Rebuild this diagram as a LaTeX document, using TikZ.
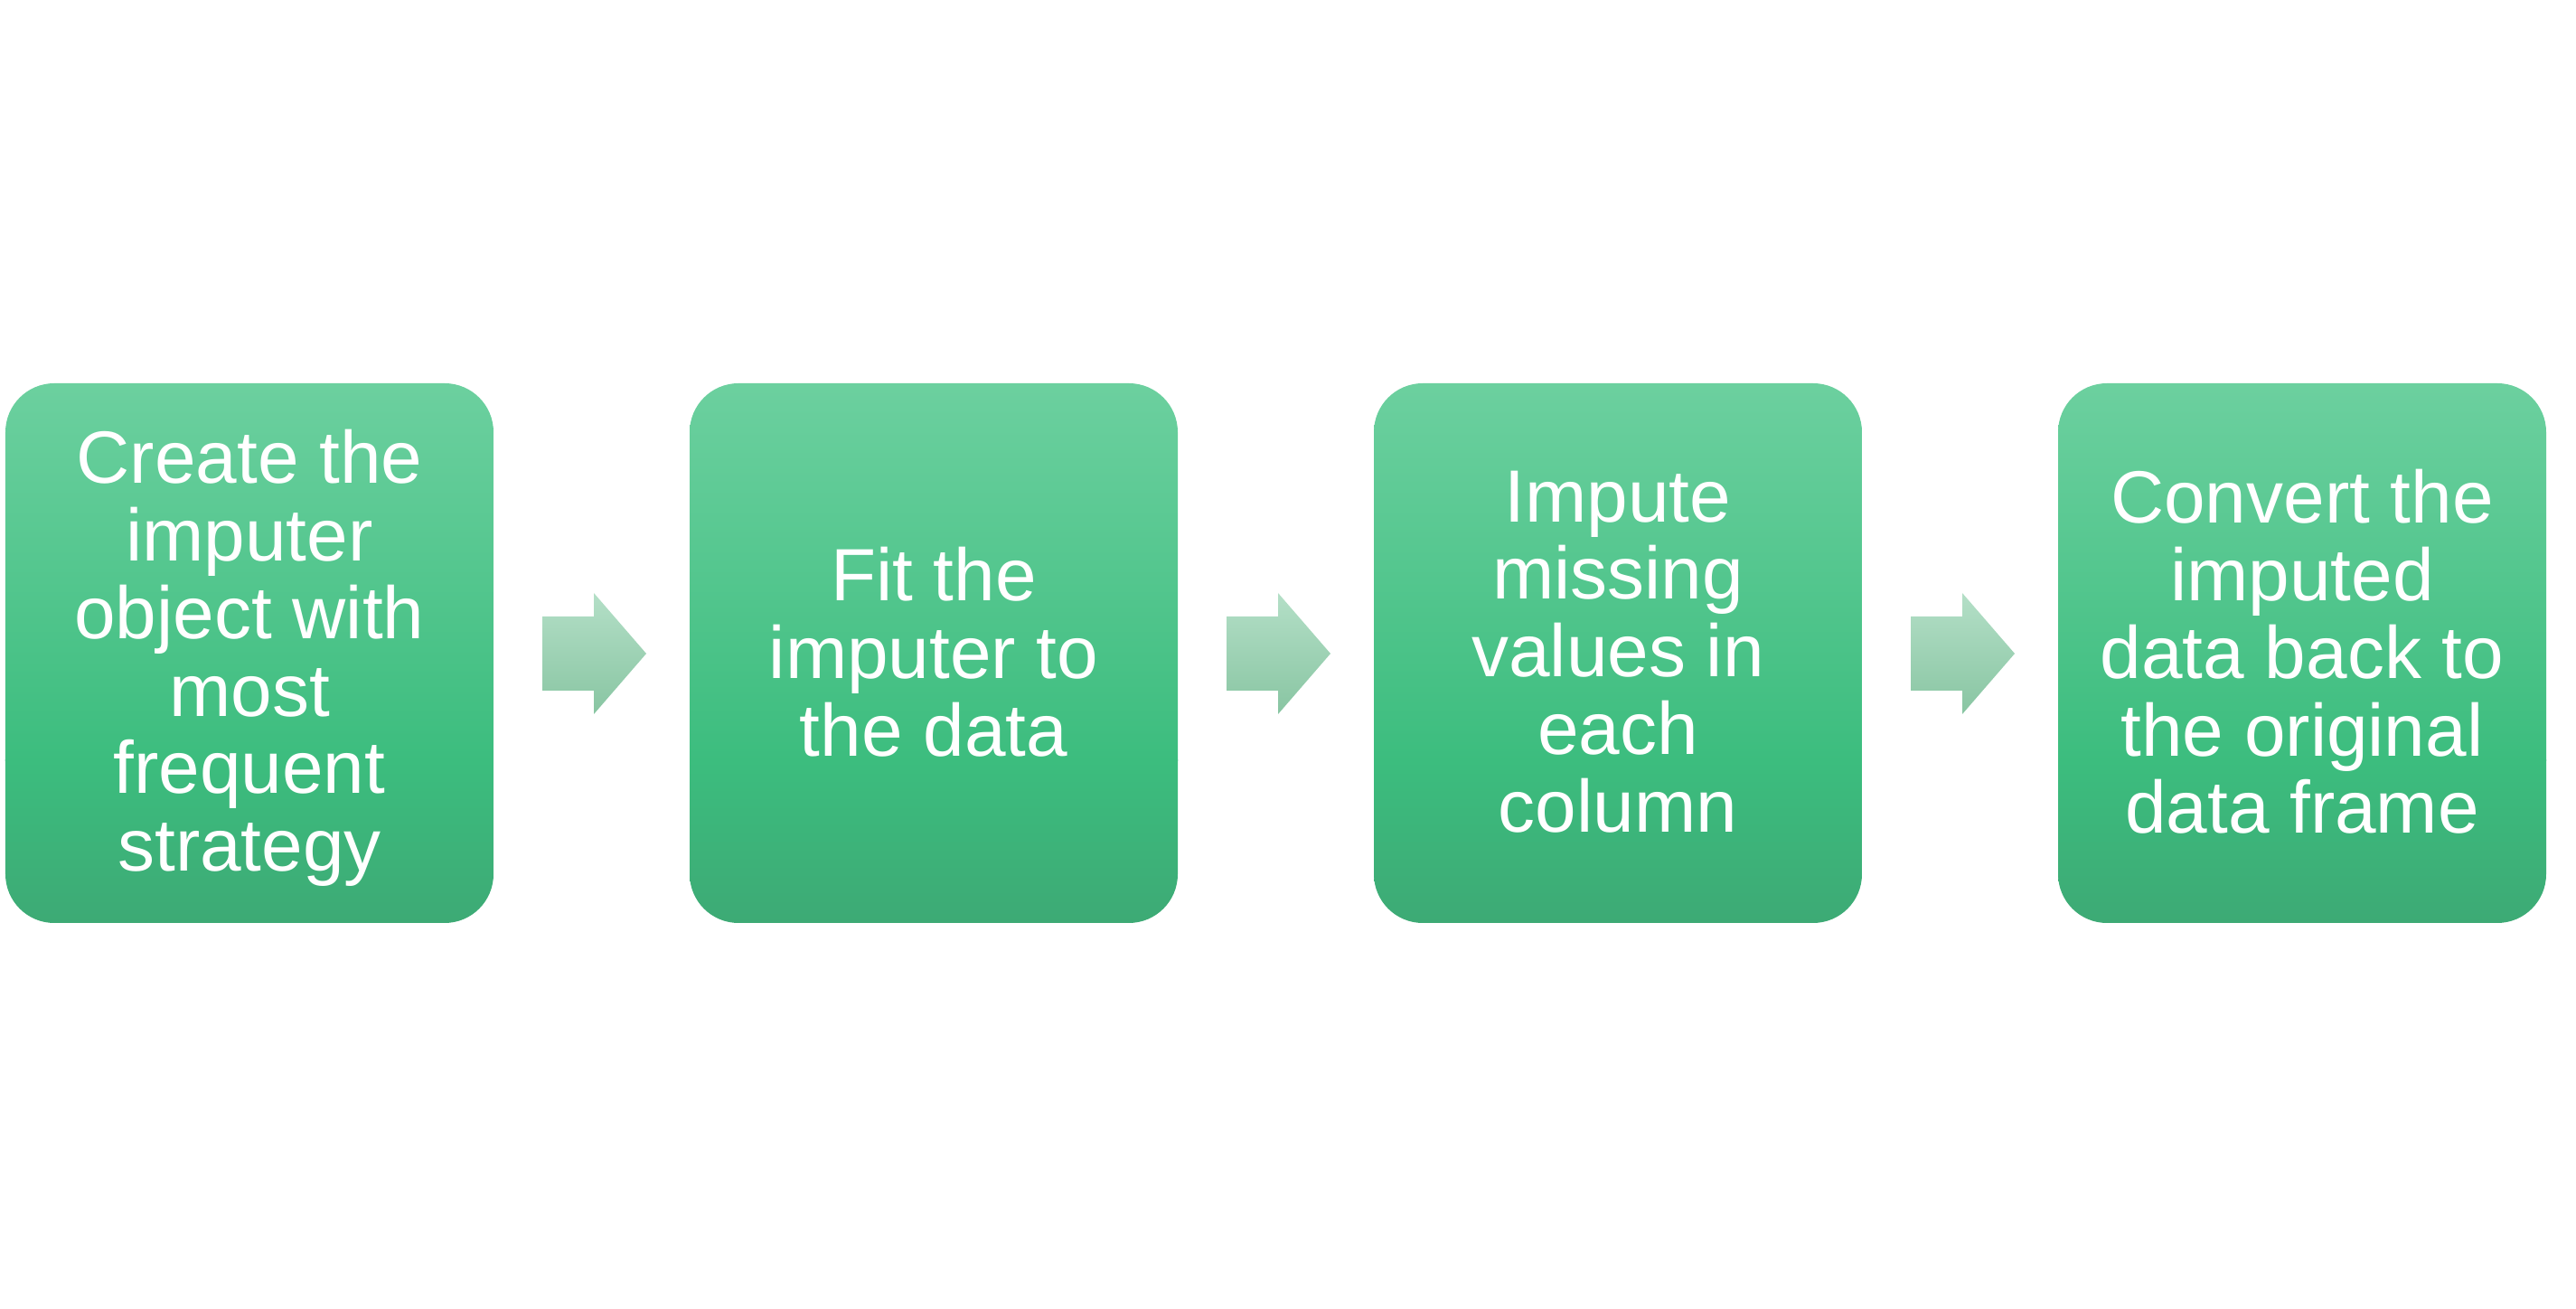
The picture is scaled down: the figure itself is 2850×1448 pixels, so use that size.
\documentclass[tikz,border=0pt]{standalone}
\usepackage{fontspec}
\setmainfont{Liberation Sans}
\definecolor{gtop}{RGB}{108,208,159}
\definecolor{gmid}{RGB}{60,189,126}
\definecolor{gbot}{RGB}{61,170,117}
\definecolor{atop}{RGB}{180,223,199}
\definecolor{abot}{RGB}{136,197,162}
\tikzset{
  txt/.style={text=white, align=center, inner sep=0pt,
    font=\fontsize{23.3}{24.4}\selectfont},
  arrowshade/.style={top color=atop, bottom color=abot}
}
\begin{document}
\begin{tikzpicture}[x=0.01cm,y=0.01cm]
\useasboundingbox (0,0) rectangle (2850,1448);
\foreach \i in {0,1,2,3} {
  \begin{scope}
    \clip[rounded corners=0.54cm] ({6+757*\i},427) rectangle ++(540,597);
    \shade[top color=gtop, bottom color=gmid] ({6+757*\i},606) rectangle ++(540,418);
    \shade[top color=gmid, bottom color=gbot] ({6+757*\i},427) rectangle ++(540,180);
  \end{scope}
}
\node[txt] (b1) at (276,720) {Create the\\imputer\\object with\\most\\frequent\\strategy};
\node[txt] (b2) at (1033,727) {Fit the\\imputer to\\the data};
\node[txt] (b3) at (1790,727) {Impute\\missing\\values in\\each\\column};
\node[txt] (b4) at (2547,727) {Convert the\\imputed\\data back to\\the original\\data frame};
\foreach \i in {0,1,2} {
  \coordinate (a\i) at ({600+757*\i},725);
  \shade[arrowshade] (a\i) ++(0,41) -- ++(57,0) -- ++(0,26) -- ++(58,-67)
     -- ++(-58,-67) -- ++(0,26) -- ++(-57,0) -- cycle;
}
\end{tikzpicture}
\end{document}
